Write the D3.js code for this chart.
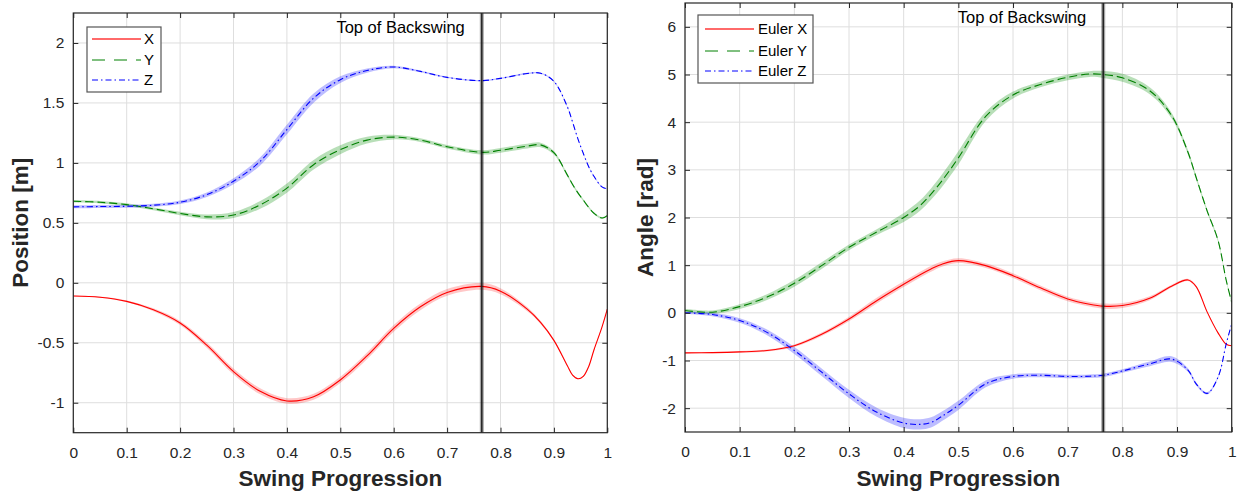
<!DOCTYPE html>
<html><head><meta charset="utf-8">
<script src="https://cdn.jsdelivr.net/npm/d3@7"></script>
<style>body{margin:0;background:#fff} svg{display:block} text{font-family:"Liberation Sans",Arial,Helvetica,sans-serif}</style>
</head><body><svg id="c" width="1246" height="498"></svg>
<script>
// ---------- Data ----------
const xTicks = [0, 0.1, 0.2, 0.3, 0.4, 0.5, 0.6, 0.7, 0.8, 0.9, 1];
const xTickLabels = ["0", "0.1", "0.2", "0.3", "0.4", "0.5", "0.6", "0.7", "0.8", "0.9", "1"];
const topOfBackswing = 0.765;

// Position panel
const posProgress = [0, 0.05, 0.1, 0.15, 0.2, 0.25, 0.3, 0.35, 0.4, 0.45, 0.5, 0.55, 0.6, 0.65, 0.7, 0.765, 0.8, 0.85, 0.875, 0.9, 0.925, 0.935, 0.945, 0.955, 0.965, 0.975, 0.99, 1];
const posX = [-0.11, -0.12, -0.155, -0.225, -0.335, -0.52, -0.74, -0.905, -0.985, -0.95, -0.81, -0.61, -0.38, -0.20, -0.08, -0.03, -0.07, -0.22, -0.33, -0.48, -0.69, -0.77, -0.80, -0.78, -0.70, -0.56, -0.37, -0.22];
const posY = [0.68, 0.672, 0.652, 0.617, 0.578, 0.55, 0.565, 0.65, 0.79, 0.985, 1.11, 1.19, 1.215, 1.19, 1.135, 1.088, 1.105, 1.14, 1.15, 1.085, 0.90, 0.82, 0.75, 0.69, 0.63, 0.58, 0.54, 0.56];
const posZ = [0.633, 0.636, 0.638, 0.647, 0.672, 0.735, 0.847, 1.013, 1.278, 1.54, 1.694, 1.77, 1.80, 1.763, 1.713, 1.686, 1.705, 1.745, 1.748, 1.68, 1.47, 1.34, 1.2, 1.08, 0.97, 0.888, 0.80, 0.783];
const posXStd = [0.004, 0.005, 0.008, 0.012, 0.017, 0.022, 0.025, 0.025, 0.023, 0.025, 0.026, 0.028, 0.028, 0.028, 0.028, 0.028, 0.025, 0.018, 0.013, 0.009, 0.006, 0.005, 0.005, 0.005, 0.005, 0.005, 0.005, 0.005];
const posYStd = [0.01, 0.01, 0.011, 0.012, 0.015, 0.02, 0.025, 0.032, 0.038, 0.04, 0.037, 0.028, 0.019, 0.015, 0.015, 0.018, 0.02, 0.02, 0.019, 0.015, 0.012, 0.011, 0.01, 0.009, 0.009, 0.008, 0.007, 0.007];
const posZStd = [0.012, 0.012, 0.012, 0.013, 0.015, 0.019, 0.025, 0.034, 0.04, 0.038, 0.028, 0.018, 0.01, 0.007, 0.006, 0.006, 0.006, 0.006, 0.005, 0.005, 0.005, 0.004, 0.004, 0.004, 0.004, 0.004, 0.004, 0.004];
const posYTicks = [-1, -0.5, 0, 0.5, 1, 1.5, 2];
const posYTickLabels = ["-1", "-0.5", "0", "0.5", "1", "1.5", "2"];
const posLegend = ["X", "Y", "Z"];

// Angle panel
const angProgress = [0, 0.05, 0.1, 0.15, 0.2, 0.25, 0.3, 0.35, 0.4, 0.43, 0.45, 0.47, 0.5, 0.55, 0.6, 0.65, 0.7, 0.74, 0.765, 0.8, 0.85, 0.89, 0.92, 0.935, 0.955, 0.975, 0.99, 1];
const eulX = [-0.84, -0.835, -0.82, -0.79, -0.69, -0.45, -0.13, 0.25, 0.6, 0.8, 0.92, 1.02, 1.096, 0.99, 0.78, 0.524, 0.29, 0.18, 0.14, 0.153, 0.306, 0.56, 0.69, 0.55, 0.02, -0.42, -0.66, -0.69];
const eulY = [0.05, 0.013, 0.13, 0.33, 0.62, 0.99, 1.375, 1.69, 2.0, 2.25, 2.49, 2.77, 3.25, 4.12, 4.57, 4.79, 4.94, 5.01, 5.0, 4.93, 4.66, 4.14, 3.37, 2.84, 2.14, 1.52, 0.68, 0.22];
const eulZ = [0.0, -0.035, -0.16, -0.41, -0.79, -1.245, -1.70, -2.08, -2.31, -2.34, -2.3, -2.17, -1.94, -1.49, -1.335, -1.31, -1.335, -1.33, -1.31, -1.22, -1.07, -0.97, -1.2, -1.49, -1.69, -1.35, -0.65, -0.23];
const eulXStd = [0.012, 0.014, 0.018, 0.022, 0.027, 0.036, 0.048, 0.06, 0.06, 0.06, 0.06, 0.055, 0.05, 0.048, 0.048, 0.048, 0.048, 0.048, 0.054, 0.054, 0.042, 0.03, 0.024, 0.018, 0.015, 0.012, 0.012, 0.012];
const eulYStd = [0.036, 0.036, 0.048, 0.06, 0.072, 0.072, 0.06, 0.06, 0.096, 0.11, 0.12, 0.13, 0.14, 0.096, 0.072, 0.06, 0.06, 0.06, 0.072, 0.084, 0.072, 0.06, 0.048, 0.042, 0.036, 0.03, 0.024, 0.024];
const eulZStd = [0.024, 0.036, 0.048, 0.06, 0.072, 0.078, 0.085, 0.096, 0.108, 0.108, 0.108, 0.1, 0.096, 0.072, 0.048, 0.042, 0.036, 0.036, 0.036, 0.036, 0.048, 0.06, 0.036, 0.03, 0.024, 0.018, 0.012, 0.012];
const angYTicks = [-2, -1, 0, 1, 2, 3, 4, 5, 6];
const angYTickLabels = ["-2", "-1", "0", "1", "2", "3", "4", "5", "6"];
const angLegend = ["Euler X", "Euler Y", "Euler Z"];

// ---------- Styles ----------
const styles = [
  {color: "#ff0000", band: "rgba(255,0,0,0.22)", dash: null, legendColor: "#ff6a6a", legendDash: null, legendWidth: 2},
  {color: "#008000", band: "rgba(0,140,0,0.28)", dash: "8,4", legendColor: "#008000", legendDash: "13,9", legendWidth: 1},
  {color: "#0000ff", band: "rgba(0,0,255,0.26)", dash: "6,3,1.5,3", legendColor: "#0000ff", legendDash: "6,3,1.5,3", legendWidth: 1}
];
const axisColor = "#262626";

const svg = d3.select("#c");
const curve = d3.curveCatmullRom.alpha(0.5);

function panel(o) {
  const x = d3.scaleLinear().domain([0, 1]).range([o.left, o.right]);
  const y = d3.scaleLinear().domain(o.yDomain).range([o.bottom, o.top]);
  const g = svg.append("g");

  // grid
  g.append("g").selectAll("line").data(xTicks).join("line")
    .attr("x1", d => x(d)).attr("x2", d => x(d)).attr("y1", o.top).attr("y2", o.bottom)
    .attr("stroke", "#dedede").attr("stroke-width", 1);
  g.append("g").selectAll("line").data(o.yTicks).join("line")
    .attr("y1", d => y(d)).attr("y2", d => y(d)).attr("x1", o.left).attr("x2", o.right)
    .attr("stroke", "#dedede").attr("stroke-width", 1);

  const clipId = "clip" + o.id;
  svg.append("clipPath").attr("id", clipId).append("rect")
    .attr("x", o.left).attr("y", o.top).attr("width", o.right - o.left).attr("height", o.bottom - o.top);
  const plot = g.append("g").attr("clip-path", `url(#${clipId})`);

  // bands
  o.series.forEach((s, k) => {
    const area = d3.area()
      .x((d, i) => x(o.p[i]))
      .y0((d, i) => y(d - s.sd[i]))
      .y1((d, i) => y(d + s.sd[i]))
      .curve(curve);
    plot.append("path").datum(s.v).attr("d", area).attr("fill", styles[k].band).attr("stroke", "none");
  });
  // lines
  o.series.forEach((s, k) => {
    const line = d3.line().x((d, i) => x(o.p[i])).y(d => y(d)).curve(curve);
    plot.append("path").datum(s.v).attr("d", line).attr("fill", "none")
      .attr("stroke", styles[k].color).attr("stroke-width", 1.1)
      .attr("stroke-dasharray", styles[k].dash);
  });

  // top of backswing line
  const vx = x(topOfBackswing);
  plot.append("line").attr("x1", vx).attr("x2", vx).attr("y1", o.top).attr("y2", o.bottom)
    .attr("stroke", "rgba(0,0,0,0.35)").attr("stroke-width", 4);
  plot.append("line").attr("x1", vx).attr("x2", vx).attr("y1", o.top).attr("y2", o.bottom)
    .attr("stroke", "#1a1a1a").attr("stroke-width", 1.4);
  g.append("text").attr("x", vx - 17).attr("y", o.top + 20).attr("text-anchor", "end")
    .attr("font-size", "16.5px").attr("fill", "#000").text("Top of Backswing");

  // axes
  const fmtX = d => xTickLabels[xTicks.indexOf(d)];
  const fmtY = d => o.yTickLabels[o.yTicks.indexOf(d)];
  const axB = g.append("g").attr("transform", `translate(0,${o.bottom})`)
    .call(d3.axisBottom(x).tickValues(xTicks).tickFormat(fmtX).tickSizeInner(-5).tickSizeOuter(0).tickPadding(14));
  const axT = g.append("g").attr("transform", `translate(0,${o.top})`)
    .call(d3.axisTop(x).tickValues(xTicks).tickFormat("").tickSizeInner(-5).tickSizeOuter(0));
  const axL = g.append("g").attr("transform", `translate(${o.left},0)`)
    .call(d3.axisLeft(y).tickValues(o.yTicks).tickFormat(fmtY).tickSizeInner(-5).tickSizeOuter(0).tickPadding(9));
  const axR = g.append("g").attr("transform", `translate(${o.right},0)`)
    .call(d3.axisRight(y).tickValues(o.yTicks).tickFormat("").tickSizeInner(-5).tickSizeOuter(0));
  [axB, axT, axL, axR].forEach(a => {
    a.select(".domain").remove();
    a.selectAll("line").attr("stroke", axisColor);
    a.selectAll("text").attr("fill", axisColor).attr("font-size", "15.5px")
      .attr("font-family", '"Liberation Sans",Arial,sans-serif');
  });
  g.append("rect").attr("x", o.left).attr("y", o.top).attr("width", o.right - o.left).attr("height", o.bottom - o.top)
    .attr("fill", "none").attr("stroke", axisColor).attr("stroke-width", 1.2);

  // axis labels
  g.append("text").attr("x", (o.left + o.right) / 2).attr("y", 486).attr("text-anchor", "middle")
    .attr("font-size", "22.5px").attr("font-weight", "bold").attr("fill", axisColor).text("Swing Progression");
  g.append("text").attr("transform", `translate(${o.ylabelX},${(o.top + o.bottom) / 2}) rotate(-90)`)
    .attr("text-anchor", "middle").attr("font-size", "22.5px").attr("font-weight", "bold")
    .attr("fill", axisColor).text(o.ylabel);

  // legend
  const L = o.legend;
  const lg = g.append("g");
  lg.append("rect").attr("x", L.x).attr("y", L.y).attr("width", L.w).attr("height", L.h)
    .attr("fill", "#fff").attr("stroke", "#555").attr("stroke-width", 1.2);
  o.legendLabels.forEach((lab, k) => {
    const yy = L.y + L.rows[k];
    lg.append("line").attr("x1", L.x + L.lineStart).attr("x2", L.x + L.lineEnd).attr("y1", yy).attr("y2", yy)
      .attr("stroke", styles[k].legendColor).attr("stroke-width", styles[k].legendWidth)
      .attr("stroke-dasharray", styles[k].legendDash);
    lg.append("text").attr("x", L.x + L.textX).attr("y", yy).attr("dy", "0.36em")
      .attr("font-size", "15px").attr("fill", "#000").text(lab);
  });
}

panel({
  id: "pos", left: 73.3, right: 607.3, top: 13, bottom: 432.7, yDomain: [-1.25, 2.25],
  yTicks: posYTicks, yTickLabels: posYTickLabels, ylabel: "Position [m]", ylabelX: 28,
  p: posProgress,
  series: [{v: posX, sd: posXStd}, {v: posY, sd: posYStd}, {v: posZ, sd: posZStd}],
  legendLabels: posLegend,
  legend: {x: 87, y: 27, w: 74, h: 65, rows: [12, 33, 53], lineStart: 5, lineEnd: 54, textX: 57}
});
panel({
  id: "ang", left: 685, right: 1231.7, top: 3, bottom: 432, yDomain: [-2.5, 6.5],
  yTicks: angYTicks, yTickLabels: angYTickLabels, ylabel: "Angle [rad]", ylabelX: 653,
  p: angProgress,
  series: [{v: eulX, sd: eulXStd}, {v: eulY, sd: eulYStd}, {v: eulZ, sd: eulZStd}],
  legendLabels: angLegend,
  legend: {x: 698, y: 15, w: 115, h: 68, rows: [14, 36, 56], lineStart: 7, lineEnd: 56, textX: 60}
});
</script>
</body></html>
